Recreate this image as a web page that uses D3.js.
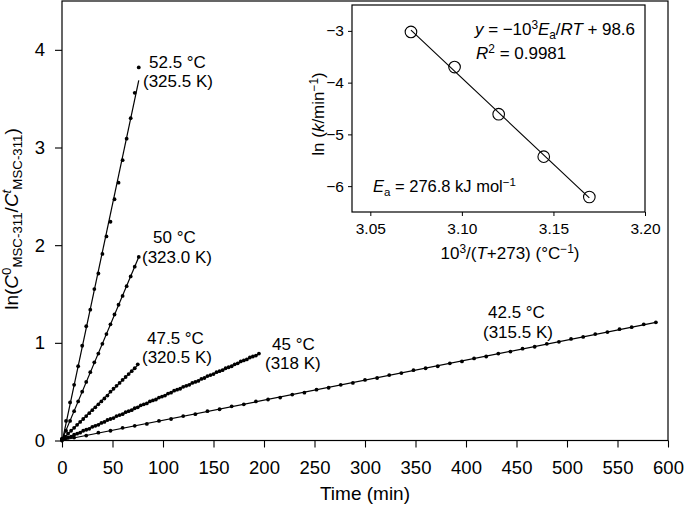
<!DOCTYPE html>
<html><head><meta charset="utf-8">
<script src="https://cdn.jsdelivr.net/npm/d3@7"></script>
<style>
body{margin:0;background:#fff}
svg{display:block}
text{font-family:"Liberation Sans",Arial,Helvetica,sans-serif;fill:#000}
</style>
</head><body>
<svg id="chart" width="685" height="507"></svg>
<script>
// ---------- data ----------
const series = ["52.5 °C", "50 °C", "47.5 °C", "45 °C", "42.5 °C"];
const t525 = [0,4,8,12,16,20,24,28,32,36,40,44,48,52,56,60,64,68,72,76];
const y525 = [0.02,0.20,0.39,0.57,0.76,0.97,1.17,1.34,1.55,1.71,1.91,2.09,2.24,2.47,2.64,2.87,3.09,3.30,3.56,3.82];
const t500 = [0,4,8,12,16,20,24,28,32,36,40,44,48,52,56,60,64,68,72,76];
const y500 = [0.01,0.10,0.20,0.30,0.40,0.50,0.60,0.70,0.80,0.89,0.99,1.09,1.19,1.29,1.39,1.48,1.58,1.68,1.78,1.88];
const t475 = [0,3,6,9,12,15,18,21,24,27,30,33,36,39,42,45,48,51,54,57,60,63,66,69,72,75];
const y475 = [0.01,0.04,0.07,0.10,0.13,0.16,0.19,0.22,0.25,0.28,0.31,0.34,0.37,0.40,0.43,0.46,0.50,0.53,0.56,0.59,0.62,0.65,0.68,0.71,0.74,0.78];
const t450 = [0,3,6,9,12,15,18,21,24,27,30,33,36,39,42,45,48,51,54,57,60,63,66,69,72,75,78,81,84,87,90,93,96,99,102,105,108,111,114,117,120,123,126,129,132,135,138,141,144,147,150,153,156,159,162,165,168,171,174,177,180,183,186,189,192,195];
const y450 = [0.00,0.02,0.03,0.04,0.06,0.07,0.08,0.10,0.11,0.12,0.14,0.15,0.16,0.18,0.19,0.21,0.22,0.23,0.25,0.26,0.27,0.29,0.30,0.31,0.33,0.34,0.36,0.37,0.38,0.40,0.41,0.42,0.44,0.45,0.46,0.48,0.49,0.51,0.52,0.53,0.55,0.56,0.57,0.59,0.60,0.61,0.63,0.64,0.66,0.67,0.68,0.70,0.71,0.72,0.74,0.75,0.76,0.78,0.79,0.81,0.82,0.83,0.85,0.86,0.87,0.89];
const t425 = [0,12,24,36,48,60,72,84,96,108,120,132,144,156,168,180,192,204,216,228,240,252,264,276,288,300,312,324,336,348,360,372,384,396,408,420,432,444,456,468,480,492,504,516,528,540,552,564,576,588];
const y425 = [0.01,0.03,0.05,0.08,0.10,0.13,0.15,0.17,0.20,0.22,0.25,0.27,0.30,0.32,0.35,0.37,0.40,0.42,0.44,0.47,0.49,0.52,0.54,0.57,0.59,0.62,0.64,0.67,0.69,0.72,0.74,0.76,0.79,0.81,0.84,0.86,0.89,0.91,0.94,0.96,0.99,1.01,1.04,1.06,1.09,1.11,1.14,1.16,1.19,1.21];

const xTicks = [0,50,100,150,200,250,300,350,400,450,500,550,600];
const yTicks = [0,1,2,3,4];

const invT = [3.0722,3.0960,3.1201,3.1447,3.1696];
const lnK  = [-3.02,-3.70,-4.61,-5.43,-6.21];
const insetXTicks = [3.05,3.10,3.15,3.20];
const insetYTicks = [-3,-4,-5,-6];

// ---------- helpers ----------
const svg = d3.select("#chart");
function rich(sel, parts, base){
  let cur = 0;
  parts.forEach(p=>{
    const off = p.sup ? -0.36*base : (p.sub ? 0.22*base : 0);
    const ts = sel.append("tspan").text(p.s);
    if(p.sup || p.sub) ts.attr("font-size", base*0.7);
    if(p.it) ts.attr("font-style","italic");
    const dy = off - cur;
    if(dy) ts.attr("dy", dy);
    cur = off;
  });
}
function fit(xs, ys){
  const n = xs.length, mx = d3.mean(xs), my = d3.mean(ys);
  let sxy=0, sxx=0;
  for(let i=0;i<n;i++){ sxy += (xs[i]-mx)*(ys[i]-my); sxx += (xs[i]-mx)**2; }
  const b = sxy/sxx; return {b, a: my - b*mx};
}

// ---------- main chart ----------
const L=62, R=668, T=1, B=440.5;
const x = d3.scaleLinear().domain([0,600]).range([L,R]);
const y = d3.scaleLinear().domain([0,4.5]).range([B,T]);

svg.append("rect").attr("x",L).attr("y",T).attr("width",R-L).attr("height",B-T)
  .attr("fill","none").attr("stroke","#000").attr("stroke-width",1.2);

const gx = svg.append("g").attr("transform",`translate(0,${B})`);
gx.call(d3.axisBottom(x).tickValues(d3.range(0,601,25)).tickSizeInner(4).tickSizeOuter(0).tickFormat(""));
gx.call(d3.axisBottom(x).tickValues(xTicks).tickSizeInner(7).tickSizeOuter(0).tickPadding(13));
const gy = svg.append("g").attr("transform",`translate(${L},0)`);
gy.call(d3.axisLeft(y).tickValues(d3.range(0,4.51,0.5)).tickSizeInner(4).tickSizeOuter(0).tickFormat(""));
gy.call(d3.axisLeft(y).tickValues(yTicks).tickSizeInner(7).tickSizeOuter(0).tickPadding(10).tickFormat(d3.format("d")));
svg.selectAll(".domain").remove();
svg.selectAll(".tick line").attr("stroke","#000").attr("stroke-width",1.1);
gx.selectAll("text").attr("font-size",18.5).attr("font-family",null);
gy.selectAll("text").attr("font-size",18.5).attr("font-family",null);

svg.append("text").attr("x",(L+R)/2).attr("y",500).attr("text-anchor","middle")
  .attr("font-size",19).text("Time (min)");

const yt = svg.append("text").attr("text-anchor","middle").attr("font-size",19)
  .attr("transform","translate(18,219) rotate(-90)");
rich(yt,[{s:"ln("},{s:"C",it:true},{s:"0",sup:true},{s:"MSC-311",sub:true},{s:"/"},{s:"C",it:true},{s:"t",sup:true,it:true},{s:"MSC-311",sub:true},{s:")"}],19);

const dataSets = [[t525,y525],[t500,y500],[t475,y475],[t450,y450],[t425,y425]];
dataSets.forEach(([ts,ys])=>{
  const f = fit(ts,ys);
  const x0 = ts[0], x1 = ts[ts.length-1];
  svg.append("line").attr("x1",x(x0)).attr("y1",y(f.a+f.b*x0)).attr("x2",x(x1)).attr("y2",y(f.a+f.b*x1))
    .attr("stroke","#000").attr("stroke-width",1.2);
  svg.append("g").selectAll("circle").data(ts).join("circle")
    .attr("cx",(d)=>x(d)).attr("cy",(d,i)=>y(ys[i])).attr("r",1.9).attr("fill","#000");
});

// series labels
const lab = [
  {a:"52.5 °C", b:"(325.5 K)", ax:149, ay:68, bx:143, by:87},
  {a:"50 °C", b:"(323.0 K)", ax:153, ay:243, bx:142, by:263},
  {a:"47.5 °C", b:"(320.5 K)", ax:147, ay:344, bx:142, by:363},
  {a:"45 °C", b:"(318 K)", ax:272, ay:350, bx:265, by:369},
  {a:"42.5 °C", b:"(315.5 K)", ax:488, ay:318, bx:483, by:338}
];
lab.forEach(l=>{
  svg.append("text").attr("x",l.ax).attr("y",l.ay).attr("font-size",17).text(l.a);
  svg.append("text").attr("x",l.bx).attr("y",l.by).attr("font-size",17).text(l.b);
});

// ---------- inset ----------
const iL=352, iR=645, iT=5, iB=212;
const ix = d3.scaleLinear().domain([3.04,3.20]).range([iL,iR]);
const iy = d3.scaleLinear().domain([-6.5,-2.5]).range([iB,iT]);
svg.append("rect").attr("x",iL).attr("y",iT).attr("width",iR-iL).attr("height",iB-iT)
  .attr("fill","#fff").attr("stroke","#000").attr("stroke-width",1.2);
const igx = svg.append("g").attr("transform",`translate(0,${iB})`);
igx.call(d3.axisBottom(ix).tickValues([3.075,3.125,3.175]).tickSizeInner(3).tickSizeOuter(0).tickFormat(""));
igx.call(d3.axisBottom(ix).tickValues(insetXTicks).tickSizeInner(4).tickSizeOuter(0).tickPadding(7).tickFormat(d3.format(".2f")));
const igy = svg.append("g").attr("transform",`translate(${iL},0)`);
igy.call(d3.axisLeft(iy).tickValues([-3.5,-4.5,-5.5,-6.5]).tickSizeInner(3).tickSizeOuter(0).tickFormat(""));
igy.call(d3.axisLeft(iy).tickValues(insetYTicks).tickSizeInner(4).tickSizeOuter(0).tickPadding(4).tickFormat(d=>"−"+Math.abs(d)));
igx.selectAll(".domain").remove(); igy.selectAll(".domain").remove();
svg.selectAll(".tick line").attr("stroke","#000");
igx.selectAll("text").attr("font-size",15.5).attr("font-family",null);
igy.selectAll("text").attr("font-size",15.5).attr("font-family",null);

const fi = fit(invT, lnK);
const ix0 = invT[0], ix1 = invT[invT.length-1];
svg.append("line").attr("x1",ix(ix0)).attr("y1",iy(fi.a+fi.b*ix0)).attr("x2",ix(ix1)).attr("y2",iy(fi.a+fi.b*ix1))
  .attr("stroke","#000").attr("stroke-width",1.1);
svg.append("g").selectAll("circle").data(invT).join("circle")
  .attr("cx",d=>ix(d)).attr("cy",(d,i)=>iy(lnK[i])).attr("r",5.8)
  .attr("fill","none").attr("stroke","#000").attr("stroke-width",1.1);

const FS = 17;
const t1 = svg.append("text").attr("x",475).attr("y",35).attr("font-size",FS)
  .attr("textLength",160).attr("lengthAdjust","spacing");
rich(t1,[{s:"y",it:true},{s:" = −10"},{s:"3",sup:true},{s:"E",it:true},{s:"a",sub:true},{s:"/"},{s:"RT",it:true},{s:" + 98.6"}],FS);
const t2 = svg.append("text").attr("x",476).attr("y",59).attr("font-size",FS);
rich(t2,[{s:"R",it:true},{s:"2",sup:true},{s:" = 0.9981"}],FS);
const t3 = svg.append("text").attr("x",373).attr("y",192).attr("font-size",16.5);
rich(t3,[{s:"E",it:true},{s:"a",sub:true},{s:" = 276.8 kJ mol"},{s:"−1",sup:true}],16.5);

const t4 = svg.append("text").attr("x",510).attr("y",259).attr("text-anchor","middle").attr("font-size",FS);
rich(t4,[{s:"10"},{s:"3",sup:true},{s:"/("},{s:"T",it:true},{s:"+273) (°C"},{s:"−1",sup:true},{s:")"}],FS);
const t5 = svg.append("text").attr("text-anchor","middle").attr("font-size",FS)
  .attr("transform","translate(324,114) rotate(-90)");
rich(t5,[{s:"ln ("},{s:"k",it:true},{s:"/min"},{s:"−1",sup:true},{s:")"}],FS);
</script>
</body></html>
